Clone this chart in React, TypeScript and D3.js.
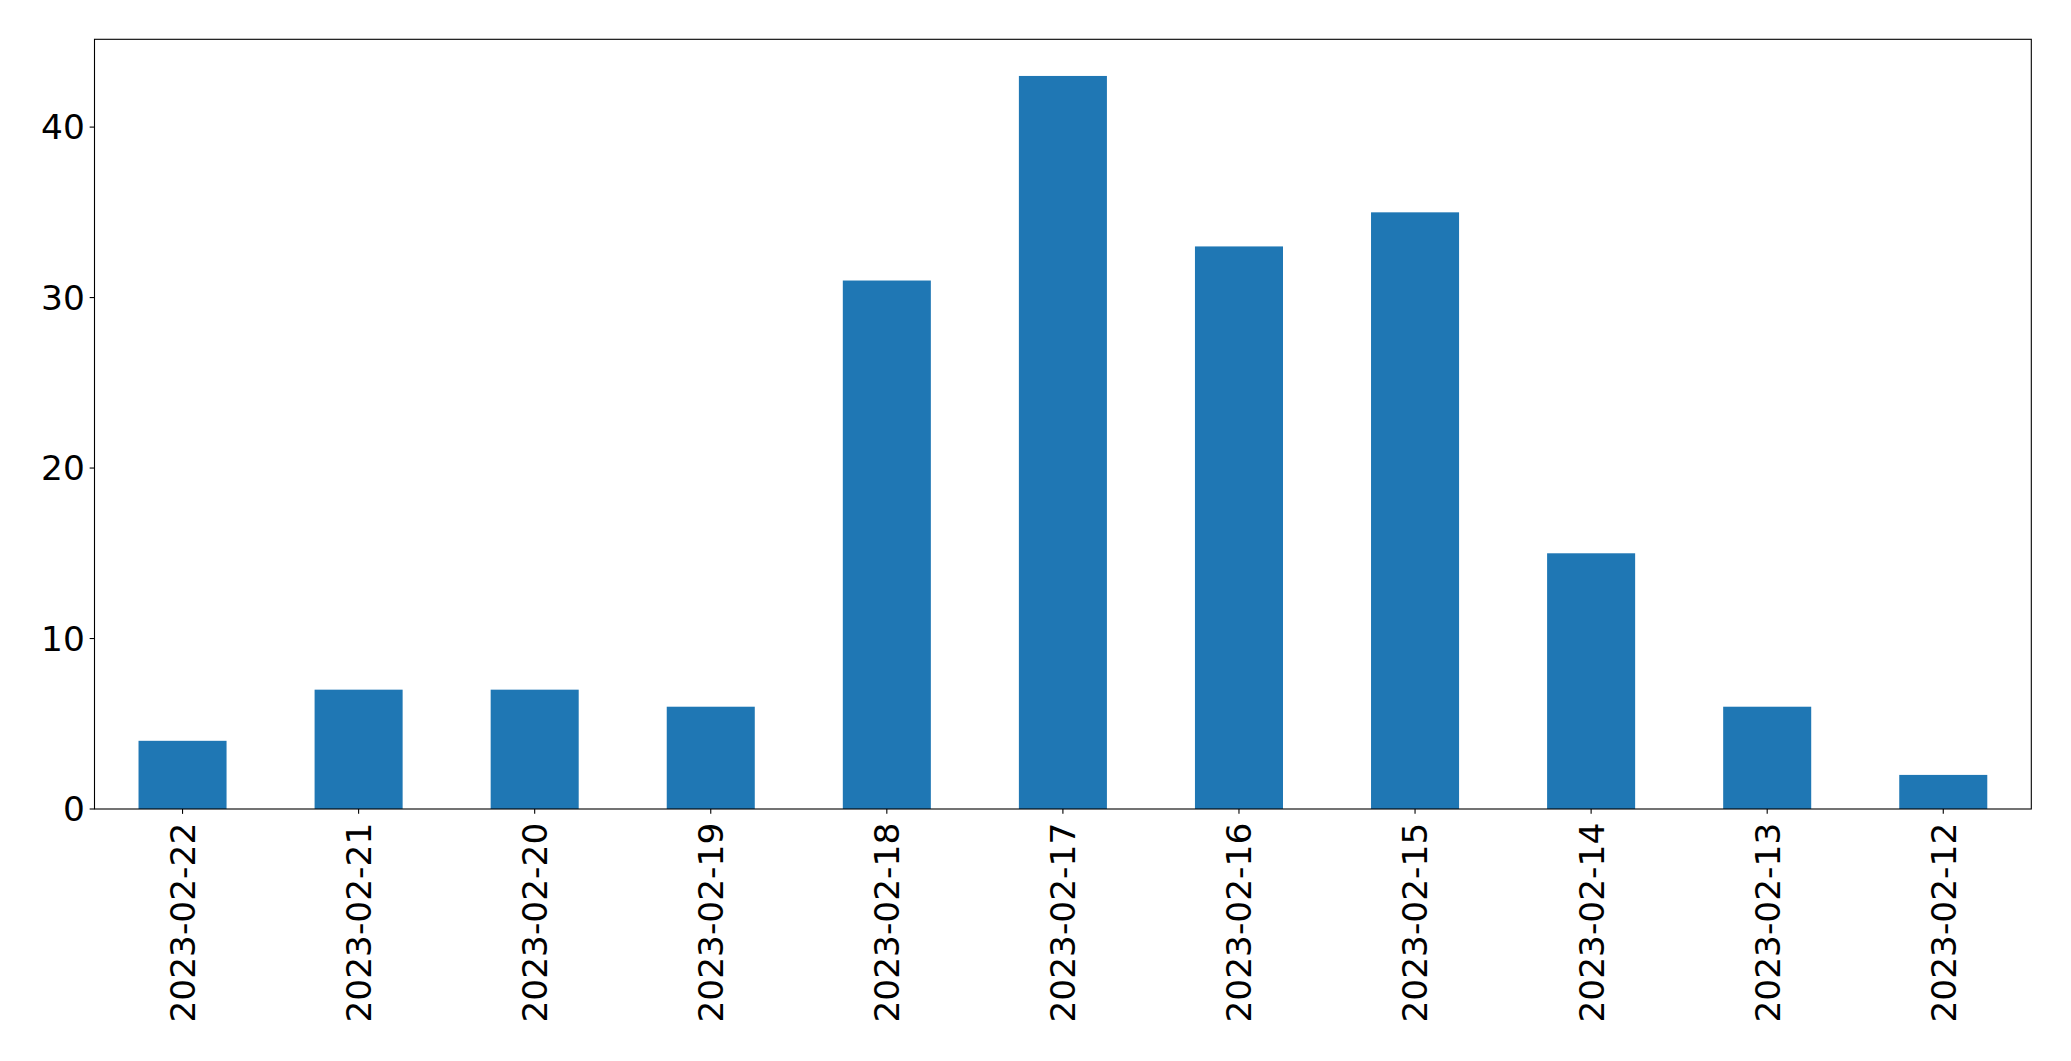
import React from "react";
import * as d3 from "d3";

const categories = ["2023-02-22","2023-02-21","2023-02-20","2023-02-19","2023-02-18","2023-02-17","2023-02-16","2023-02-15","2023-02-14","2023-02-13","2023-02-12"];
const values = [4, 7, 7, 6, 31, 43, 33, 35, 15, 6, 2];
const yTicks = [0, 10, 20, 30, 40];

const W = 2071, H = 1061;
const left = 94.5, right = 2031.3, top = 39.3, bottom = 809;
const FONT = "DejaVu Sans, sans-serif";
const FS = 34.4;
const TICK = 4.86, PAD = 4.86;

export default function App() {
  const x = d3.scaleLinear().domain([-0.5, categories.length - 0.5]).range([left, right]);
  const ymax = d3.max(values)! * 1.05;
  const y = d3.scaleLinear().domain([0, ymax]).range([bottom, top]);
  const bw = x(0.25) - x(-0.25);
  return (
    <svg width={W} height={H} style={{ position: "absolute", left: 0, top: 0, background: "#fff" }}>
      <rect x={0} y={0} width={W} height={H} fill="#fff" />
      {values.map((v, i) => (
        <rect key={i} x={x(i) - bw / 2} y={y(v)} width={bw} height={y(0) - y(v)} fill="#1f77b4" />
      ))}
      <rect x={left} y={top} width={right - left} height={bottom - top} fill="none" stroke="#000" strokeWidth={1.1} />
      {yTicks.map((t) => (
        <g key={t}>
          <line x1={left - TICK} x2={left} y1={y(t)} y2={y(t)} stroke="#000" strokeWidth={1.1} />
          <text x={left - TICK - PAD} y={y(t)} dy="0.36em" textAnchor="end" fontFamily={FONT} fontSize={FS} fill="#000">{t}</text>
        </g>
      ))}
      {categories.map((c, i) => (
        <g key={c}>
          <line x1={x(i)} x2={x(i)} y1={bottom} y2={bottom + TICK} stroke="#000" strokeWidth={1.1} />
          <text transform={`translate(${x(i)},${bottom + TICK + PAD + 4}) rotate(-90)`} dy="0.36em" textAnchor="end" fontFamily={FONT} fontSize={FS} fill="#000">{c}</text>
        </g>
      ))}
    </svg>
  );
}
